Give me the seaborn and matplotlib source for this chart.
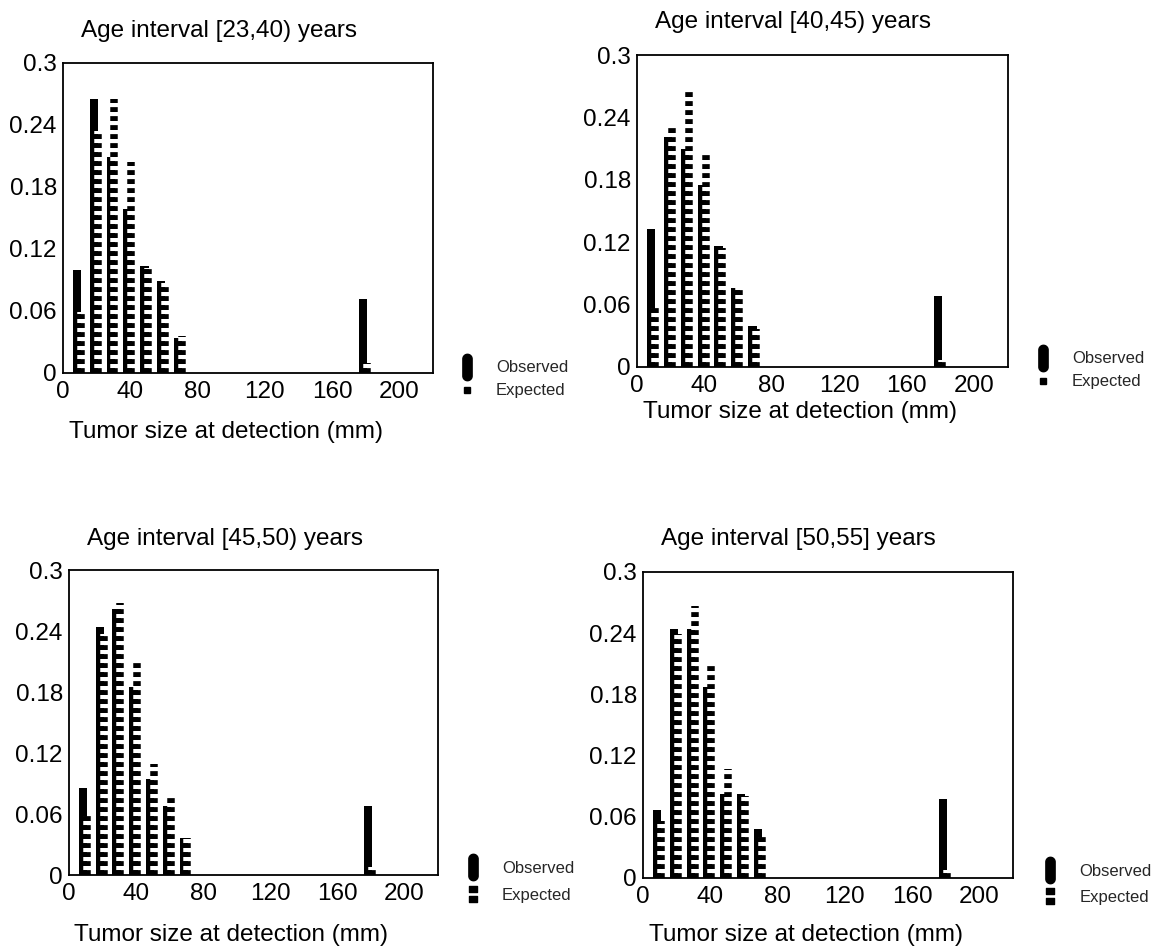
import numpy as np
import seaborn as sns
import matplotlib
matplotlib.use("Agg")
import matplotlib.pyplot as plt
from matplotlib.lines import Line2D
from matplotlib.path import Path

# tumor size classes (mm), last one is the large-size tail class
sizes = [10, 20, 30, 40, 50, 60, 70, 180]

titles = ["Age interval [23,40) years", "Age interval [40,45) years",
          "Age interval [45,50) years", "Age interval [50,55] years"]

obs_23_40 = [0.100, 0.265, 0.209, 0.159, 0.104, 0.089, 0.034, 0.072]
exp_23_40 = [0.059, 0.234, 0.265, 0.204, 0.102, 0.087, 0.036, 0.010]

obs_40_45 = [0.133, 0.221, 0.210, 0.175, 0.116, 0.076, 0.039, 0.068]
exp_40_45 = [0.057, 0.234, 0.264, 0.205, 0.114, 0.076, 0.037, 0.007]

obs_45_50 = [0.086, 0.244, 0.262, 0.185, 0.094, 0.068, 0.036, 0.068]
exp_45_50 = [0.058, 0.237, 0.268, 0.209, 0.109, 0.079, 0.036, 0.008]

obs_50_55 = [0.067, 0.244, 0.244, 0.187, 0.082, 0.082, 0.048, 0.077]
exp_50_55 = [0.056, 0.239, 0.267, 0.208, 0.107, 0.080, 0.040, 0.008]

observed = [obs_23_40, obs_40_45, obs_45_50, obs_50_55]
expected = [exp_23_40, exp_40_45, exp_45_50, exp_50_55]

xticks = [0, 40, 80, 120, 160, 200]
yticks = [0, 0.06, 0.12, 0.18, 0.24, 0.3]
ytick_labels = ["0", "0.06", "0.12", "0.18", "0.24", "0.3"]

sns.set_style("white")
plt.rcParams["font.family"] = ["Liberation Sans", "DejaVu Sans"]

# legend markers: a capsule for observed, small square(s) for expected
t = np.linspace(0, np.pi, 24)
top = np.column_stack([0.35 * np.cos(t), 0.65 + 0.35 * np.sin(t)])
bot = np.column_stack([0.35 * np.cos(t + np.pi), -0.65 + 0.35 * np.sin(t + np.pi)])
capsule = Path(np.vstack([top, bot, top[:1]]), closed=True)

sq = [(-0.25, 0.1), (0.25, 0.1), (0.25, 0.5), (-0.25, 0.5), (-0.25, 0.1)]
sq2 = [(x, y - 0.6) for x, y in sq]
codes = [Path.MOVETO, Path.LINETO, Path.LINETO, Path.LINETO, Path.CLOSEPOLY]
double_sq = Path(sq + sq2, codes + codes)

fig = plt.figure(figsize=(11.52, 9.5), dpi=100)

# per-panel layout: axes rect, title y, xlabel y, legend anchor, legend spacing, expected marker
panels = [
    dict(rect=[0.0547, 0.6074, 0.3212, 0.3263], ty=1.103, ly=-0.155, leg=(1.069, -0.021), sp=0.48, dbl=False),
    dict(rect=[0.5530, 0.6137, 0.3220, 0.3284], ty=1.106, ly=-0.109, leg=(1.072, -0.011), sp=0.48, dbl=False),
    dict(rect=[0.0599, 0.0789, 0.3203, 0.3210], ty=1.102, ly=-0.161, leg=(1.072, -0.023), sp=0.75, dbl=True),
    dict(rect=[0.5582, 0.0758, 0.3212, 0.3221], ty=1.108, ly=-0.150, leg=(1.078, -0.020), sp=0.65, dbl=True),
]

for i, p in enumerate(panels):
    ax = fig.add_axes(p["rect"])
    sns.barplot(x=np.asarray(sizes) - 1.6, y=observed[i], native_scale=True,
                color="black", saturation=1, width=0.5, errorbar=None,
                linewidth=0, ax=ax)
    ax.vlines(np.asarray(sizes) + 0.6, 0, expected[i], colors="black",
              linewidth=5.4, linestyles=(0, (0.65, 0.55)), gapcolor="white", zorder=3)

    ax.set_xlim(0, 220)
    ax.set_ylim(0, 0.3)
    ax.set_xticks(xticks)
    ax.set_yticks(yticks, ytick_labels)
    ax.tick_params(axis="both", length=0, labelsize=17.5, colors="black")
    ax.tick_params(axis="x", pad=5.5)
    ax.tick_params(axis="y", pad=4.5)
    for s in ax.spines.values():
        s.set_visible(True)
        s.set_color("black")
        s.set_linewidth(1.3)

    ax.set_ylabel("")
    ax.set_xlabel("Tumor size at detection (mm)", fontsize=17.5, color="black")
    ax.xaxis.set_label_coords(0.44, p["ly"])
    ax.text(0.048, p["ty"], titles[i], transform=ax.transAxes, ha="left",
            va="center", fontsize=17.5, color="black")

    exp_marker = Line2D([], [], ls="none", color="black",
                        marker=double_sq if p["dbl"] else "s",
                        ms=11.5 if p["dbl"] else 5)
    obs_marker = Line2D([], [], ls="none", color="black", marker=capsule, ms=19)
    ax.legend(handles=[obs_marker, exp_marker], labels=["Observed", "Expected"],
              loc="center left", bbox_to_anchor=p["leg"], frameon=False,
              fontsize=12, handlelength=1.0, handletextpad=1.24, borderpad=0,
              borderaxespad=0, labelspacing=p["sp"])

fig.savefig("out.png", dpi=100, facecolor="white")
